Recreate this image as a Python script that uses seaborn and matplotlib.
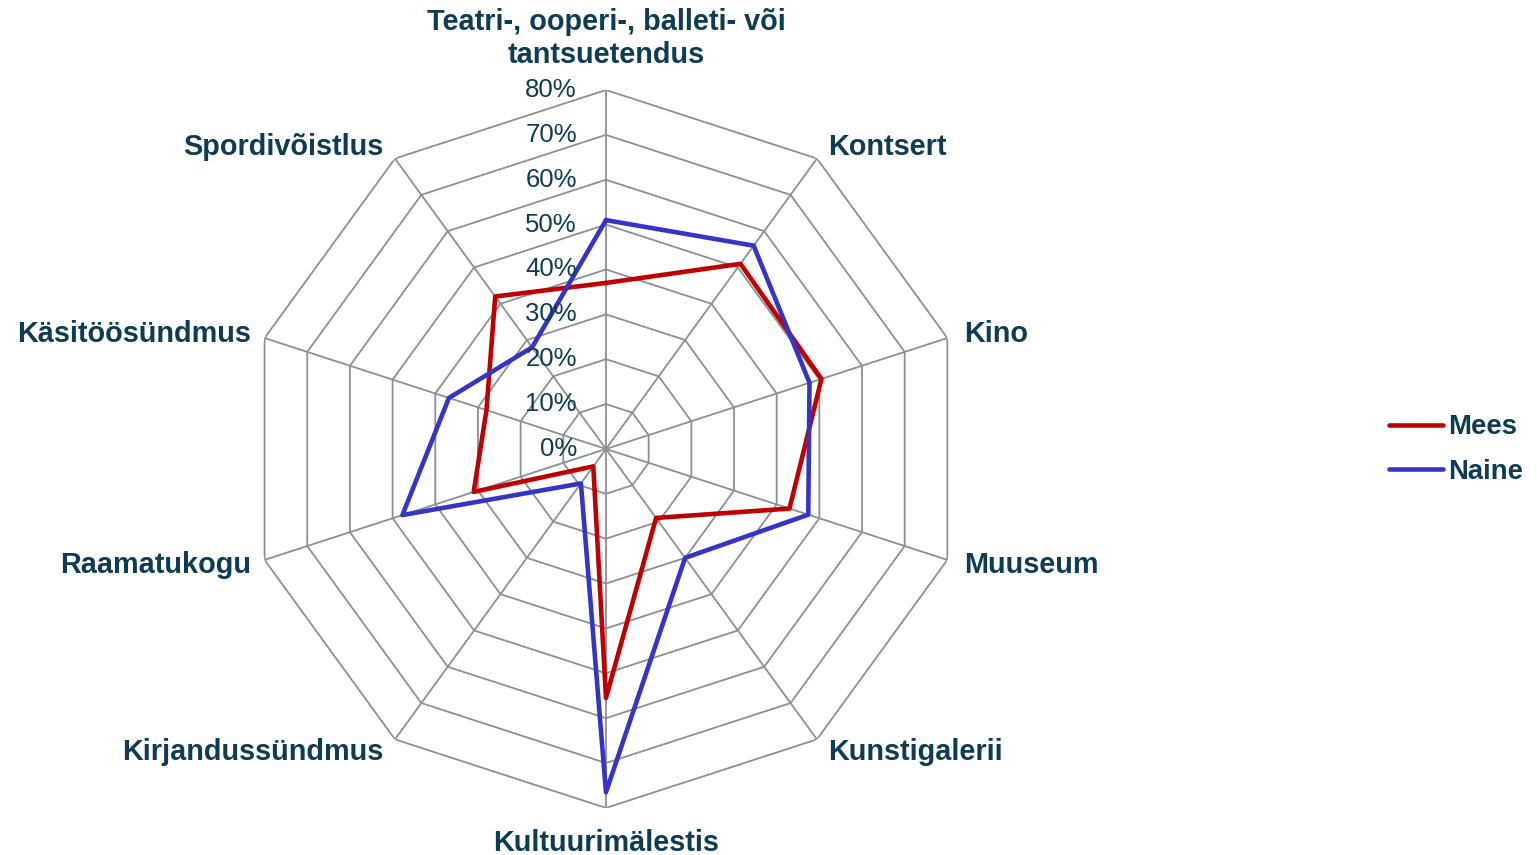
import numpy as np
import pandas as pd
import matplotlib
matplotlib.use("Agg")
import matplotlib.pyplot as plt
import seaborn as sns

# --- andmed (loetud jooniselt) ---
kategooriad = [
    "Teatri-, ooperi-, balleti- või\ntantsuetendus",
    "Kontsert",
    "Kino",
    "Muuseum",
    "Kunstigalerii",
    "Kultuurimälestis",
    "Kirjandussündmus",
    "Raamatukogu",
    "Käsitöösündmus",
    "Spordivõistlus",
]
mees = [0.37, 0.51, 0.505, 0.43, 0.19, 0.555, 0.048, 0.31, 0.28, 0.42]
naine = [0.51, 0.56, 0.477, 0.474, 0.30, 0.765, 0.095, 0.477, 0.368, 0.28]
tasemed = [0.0, 0.1, 0.2, 0.3, 0.4, 0.5, 0.6, 0.7, 0.8]
taseme_sildid = ["0%", "10%", "20%", "30%", "40%", "50%", "60%", "70%", "80%"]

TEKST = "#0e3c54"
VORK = "#8b9096"
VARVID = {"Mees": "#c00000", "Naine": "#3434c8"}

sns.set_theme(style="white")
plt.rcParams["font.family"] = ["Liberation Sans", "DejaVu Sans"]

n = len(kategooriad)
nurgad = np.arange(n) * 2 * np.pi / n
suletud = np.append(nurgad, 2 * np.pi)

# pikk tabel, joon suletakse esimese punkti kordamisega
df = pd.concat([
    pd.DataFrame({"sugu": nimi, "theta": suletud, "vaartus": v + v[:1]})
    for nimi, v in [("Mees", mees), ("Naine", naine)]
], ignore_index=True)

fig = plt.figure(figsize=(15.37, 8.55), dpi=100)
ax = fig.add_axes([0.1607, 0.0550, 0.4671, 0.8398], projection="polar")
ax.set_theta_offset(np.pi / 2)
ax.set_theta_direction(-1)
ax.set_ylim(0, 0.8)
ax.grid(False)
ax.spines["polar"].set_visible(False)
ax.set_xticks([])
ax.set_yticks([])

# hulknurkne võrk
for t in tasemed[1:]:
    ax.plot(suletud, [t] * (n + 1), color=VORK, lw=1.3, zorder=1)
for th in nurgad:
    ax.plot([th, th], [0, 0.8], color=VORK, lw=1.3, zorder=1)

sns.lineplot(data=df, x="theta", y="vaartus", hue="sugu", palette=VARVID,
             sort=False, estimator=None, lw=3.3, ax=ax, zorder=3)
ax.set_xlabel("")
ax.set_ylabel("")

# skaala sildid
for t, s in zip(tasemed, taseme_sildid):
    ax.annotate(s, xy=(0, t), xytext=(-21, 0), textcoords="offset points",
                ha="right", va="center", fontsize=18.5, color=TEKST, zorder=4)

# kategooriate sildid
nihked = [(0, 37, "center"), (8, 8, "left"), (12, 3, "left"), (12, -4, "left"),
          (8, -9, "left"), (0, -25, "center"), (-8, -9, "right"), (-10, -4, "right"),
          (-10, 3, "right"), (-8, 8, "right")]
for th, nimi, (dx, dy, ha) in zip(nurgad, kategooriad, nihked):
    ax.annotate(nimi, xy=(th, 0.8), xytext=(dx, dy), textcoords="offset points",
                ha=ha, va="center", fontsize=20.8, fontweight="bold", color=TEKST,
                linespacing=1.22, annotation_clip=False)

kaepidemed, nimed = ax.get_legend_handles_labels()
ax.get_legend().remove()
fig.legend(kaepidemed, nimed, loc="center left", bbox_to_anchor=(0.904, 0.474),
           frameon=False, handlelength=1.95, handletextpad=0.2, labelspacing=0.68,
           borderpad=0, borderaxespad=0,
           prop={"size": 19.8, "weight": "bold"}, labelcolor=TEKST)

fig.savefig("out.png", dpi=100)
